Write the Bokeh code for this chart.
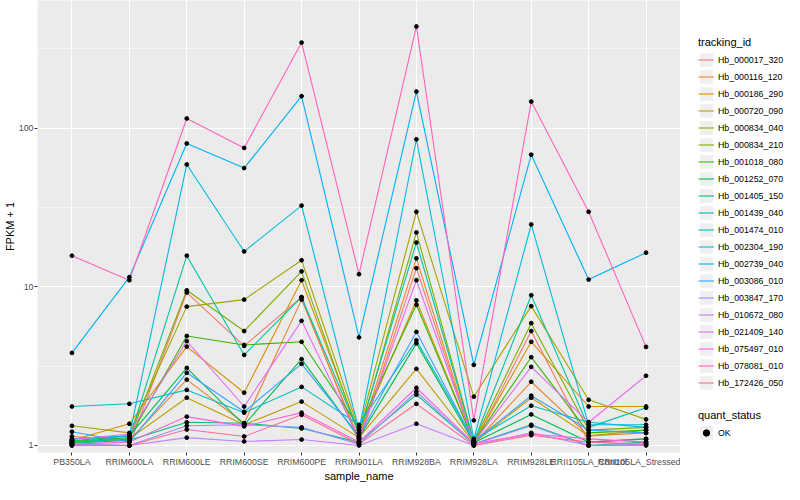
from bokeh.plotting import figure
from bokeh.models import Range1d, FixedTicker, PrintfTickFormatter, Legend, LegendItem
from bokeh.layouts import row
from bokeh.embed import file_html
from bokeh.resources import INLINE

samples = ["PB350LA", "RRIM600LA", "RRIM600LE", "RRIM600SE", "RRIM600PE", "RRIM901LA",
           "RRIM928BA", "RRIM928LA", "RRIM928LE", "RRII105LA_Control", "RRII105LA_Stressed"]

tracking_ids = ["Hb_000017_320", "Hb_000116_120", "Hb_000186_290", "Hb_000720_090", "Hb_000834_040",
                "Hb_000834_210", "Hb_001018_080", "Hb_001252_070", "Hb_001405_150", "Hb_001439_040",
                "Hb_001474_010", "Hb_002304_190", "Hb_002739_040", "Hb_003086_010", "Hb_003847_170",
                "Hb_010672_080", "Hb_021409_140", "Hb_075497_010", "Hb_078081_010", "Hb_172426_050"]

palette = ["#F8766D", "#EA8331", "#D89000", "#C09B00", "#A3A500", "#7CAE00", "#39B600", "#00BB4E",
           "#00BF7D", "#00C1A3", "#00BFC4", "#00BAE0", "#00B0F6", "#35A2FF", "#9590FF", "#C77CFF",
           "#E76BF3", "#FA62DB", "#FF62BC", "#FF6C91"]

# FPKM + 1 per sample
hb_000017_320 = [1.02, 1.0, 9.2, 4.24, 8.6, 1.05, 13.1, 1.02, 5.26, 1.05, 1.1]
hb_000116_120 = [1.14, 1.08, 2.6, 1.38, 8.3, 1.1, 15.1, 1.03, 2.52, 1.15, 1.2]
hb_000186_290 = [1.08, 1.37, 4.2, 2.15, 11.0, 1.2, 8.2, 1.05, 4.5, 1.76, 1.76]
hb_000720_090 = [1.05, 1.1, 2.0, 1.35, 1.89, 1.12, 3.04, 1.04, 2.0, 1.15, 1.25]
hb_000834_040 = [1.33, 1.2, 7.5, 8.3, 14.7, 1.25, 29.7, 2.03, 7.55, 1.94, 1.46]
hb_000834_210 = [1.04, 1.1, 9.5, 5.26, 12.5, 1.15, 22.0, 1.06, 5.9, 1.25, 1.3]
hb_001018_080 = [1.06, 1.12, 4.9, 4.3, 4.5, 1.3, 7.7, 1.05, 3.6, 1.2, 1.25]
hb_001252_070 = [1.07, 1.15, 3.08, 1.35, 3.5, 1.12, 4.4, 1.04, 1.57, 1.05, 1.1]
hb_001405_150 = [1.03, 1.08, 1.4, 1.38, 1.28, 1.05, 2.09, 1.02, 1.35, 1.0, 1.05]
hb_001439_040 = [1.05, 1.1, 15.7, 3.72, 8.6, 1.2, 19.0, 1.06, 8.85, 1.3, 1.73]
hb_001474_010 = [1.76, 1.83, 2.24, 1.61, 2.34, 1.35, 4.6, 1.08, 1.78, 1.4, 1.3]
hb_002304_190 = [1.1, 1.15, 59.0, 16.7, 32.5, 1.25, 85.0, 1.1, 24.7, 1.35, 1.35]
hb_002739_040 = [3.83, 11.5, 80.0, 56.0, 159.0, 4.8, 170.0, 3.22, 68.0, 11.1, 16.4]
hb_003086_010 = [1.22, 1.05, 2.87, 1.63, 3.27, 1.15, 5.2, 1.06, 2.06, 1.25, 1.2]
hb_003847_170 = [1.02, 1.0, 1.33, 1.35, 1.3, 1.02, 2.18, 1.02, 1.33, 1.0, 1.02]
hb_010672_080 = [1.0, 1.0, 1.12, 1.06, 1.09, 1.0, 1.37, 1.0, 1.2, 1.0, 1.0]
hb_021409_140 = [1.09, 1.18, 4.55, 1.76, 6.1, 1.1, 11.0, 1.05, 3.13, 1.4, 2.75]
hb_075497_010 = [1.02, 1.05, 1.52, 1.32, 1.61, 1.05, 2.31, 1.03, 1.18, 1.1, 1.05]
hb_078081_010 = [15.7, 11.0, 115.0, 75.0, 346.0, 12.0, 437.0, 1.44, 147.0, 29.7, 4.18]
hb_172426_050 = [1.0, 1.0, 1.26, 1.14, 1.56, 1.02, 1.83, 1.0, 1.16, 1.05, 1.02]

series = [hb_000017_320, hb_000116_120, hb_000186_290, hb_000720_090, hb_000834_040,
          hb_000834_210, hb_001018_080, hb_001252_070, hb_001405_150, hb_001439_040,
          hb_001474_010, hb_002304_190, hb_002739_040, hb_003086_010, hb_003847_170,
          hb_010672_080, hb_021409_140, hb_075497_010, hb_078081_010, hb_172426_050]

FONT = "Liberation Sans"
xs = list(range(len(samples)))
NAN = float("nan")

p = figure(width=680, height=484, y_axis_type="log",
           x_range=Range1d(-0.6, len(samples) - 0.4), y_range=Range1d(0.903, 637),
           toolbar_location=None, output_backend="svg",
           min_border_left=30, min_border_right=0, min_border_top=0, min_border_bottom=0)
p.background_fill_color = "#EBEBEB"
p.border_fill_color = "white"
p.outline_line_color = None

for vals, c in zip(series, palette):
    p.line(x=xs, y=vals, line_color=c, line_width=1.1)
for vals in series:
    p.scatter(x=xs, y=vals, marker="circle", size=3.8, fill_color="black", line_color="black")

p.xaxis.ticker = FixedTicker(ticks=xs)
p.xaxis.major_label_overrides = {i: s for i, s in enumerate(samples)}
p.yaxis.ticker = FixedTicker(ticks=[1, 10, 100])
p.yaxis.formatter = PrintfTickFormatter(format="%d")
p.xaxis.axis_label = "sample_name"
p.yaxis.axis_label = "FPKM + 1"
for ax in p.axis:
    ax.axis_line_color = None
    ax.major_tick_line_color = "#333333"
    ax.major_tick_out = 3
    ax.major_tick_in = 0
    ax.minor_tick_line_color = None
    ax.major_label_text_font = FONT
    ax.major_label_text_font_size = "8.8px"
    ax.major_label_text_color = "#4D4D4D"
    ax.major_label_standoff = 1
    ax.axis_label_text_font = FONT
    ax.axis_label_text_font_size = "11px"
    ax.axis_label_text_font_style = "normal"
    ax.axis_label_text_color = "black"
    ax.axis_label_standoff = 0

p.xgrid.ticker = FixedTicker(ticks=xs)
p.ygrid.ticker = FixedTicker(ticks=[1, 10, 100], minor_ticks=[3.1623, 31.623, 316.23])
p.grid.grid_line_color = "white"
p.grid.grid_line_width = 1.1
p.ygrid.minor_grid_line_color = "white"
p.ygrid.minor_grid_line_width = 0.55

# legend panel
pl = figure(width=104, height=484, x_range=Range1d(0, 1), y_range=Range1d(0, 1),
            toolbar_location=None, output_backend="svg",
            x_axis_location=None, y_axis_location=None, min_border=0)
pl.outline_line_color = None
pl.grid.visible = False

bg = pl.quad(left=[NAN], right=[NAN], top=[NAN], bottom=[NAN], fill_color="#EFEFEF", line_color=None)
items = []
for tid, c in zip(tracking_ids, palette):
    r = pl.line(x=[NAN], y=[NAN], line_color=c, line_width=1.1)
    items.append(LegendItem(label=tid, renderers=[bg, r]))
pt = pl.scatter(x=[NAN], y=[NAN], marker="circle", size=3.8, fill_color="black", line_color="black")

common = dict(orientation="vertical", label_height=17,
              spacing=0, padding=0, margin=0, border_line_color=None,
              background_fill_alpha=0, label_text_font=FONT, label_text_font_size="8.8px",
              label_text_color="black", title_text_font=FONT, title_text_font_size="11px",
              title_text_font_style="normal", title_text_color="black", title_standoff=3)

leg1 = Legend(items=items, title="tracking_id", location=(18, 61),
              glyph_width=16, glyph_height=17, label_standoff=4, **common)
leg2 = Legend(items=[LegendItem(label="OK", renderers=[bg, pt])], title="quant_status",
              location=(18, 11), glyph_width=16, glyph_height=17, label_standoff=4, **common)
pl.add_layout(leg1)
pl.add_layout(leg2)

layout = row(p, pl)
open("out.html", "w").write(file_html(layout, INLINE))
